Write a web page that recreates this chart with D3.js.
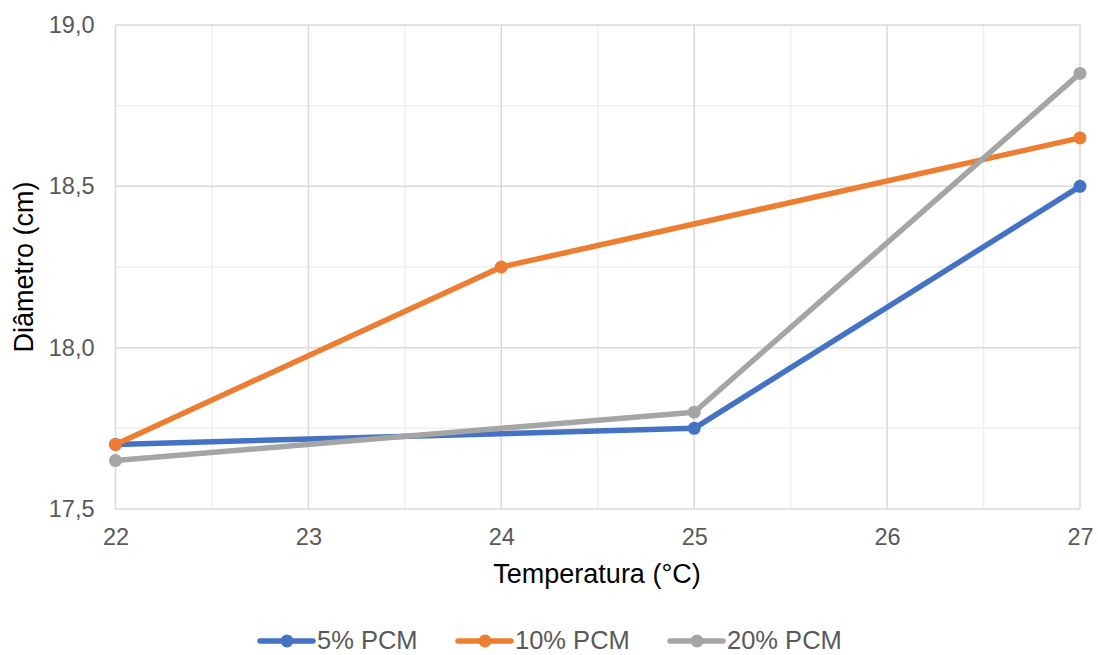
<!DOCTYPE html>
<html>
<head>
<meta charset="utf-8">
<script src="https://cdn.jsdelivr.net/npm/d3@7"></script>
<style>
  html, body { margin: 0; padding: 0; background: #fff; }
  svg { display: block; font-family: "Liberation Sans", Arial, Helvetica, sans-serif; }
</style>
</head>
<body>
<svg id="chart" width="1098" height="655"></svg>
<script>
// Diameter measurements per PCM proportion, by temperature (°C)
const seriesNames = ["5% PCM", "10% PCM", "20% PCM"];
const seriesColors = ["#4472C4", "#ED7D31", "#A5A5A5"];
const temps5 = [22, 25, 27];
const diam5 = [17.70, 17.75, 18.50];
const temps10 = [22, 24, 27];
const diam10 = [17.70, 18.25, 18.65];
const temps20 = [22, 25, 27];
const diam20 = [17.65, 17.80, 18.85];
const xTicks = [22, 23, 24, 25, 26, 27];
const yTicks = [17.5, 18.0, 18.5, 19.0];

const series = [
  { name: seriesNames[0], color: seriesColors[0], pts: temps5.map((t, i) => [t, diam5[i]]) },
  { name: seriesNames[1], color: seriesColors[1], pts: temps10.map((t, i) => [t, diam10[i]]) },
  { name: seriesNames[2], color: seriesColors[2], pts: temps20.map((t, i) => [t, diam20[i]]) }
];

const svg = d3.select("#chart");
const plotL = 115.5, plotR = 1080, plotT = 25, plotB = 509;

const x = d3.scaleLinear().domain([22, 27]).range([plotL, plotR]);
const y = d3.scaleLinear().domain([17.5, 19.0]).range([plotB, plotT]);

const grid = svg.append("g");
// minor gridlines
d3.range(22.5, 27, 1).forEach(v => {
  grid.append("line").attr("x1", x(v)).attr("x2", x(v)).attr("y1", plotT).attr("y2", plotB)
    .attr("stroke", "#efefef").attr("stroke-width", 1.5);
});
d3.range(17.75, 19.0, 0.5).forEach(v => {
  grid.append("line").attr("x1", plotL).attr("x2", plotR).attr("y1", y(v)).attr("y2", y(v))
    .attr("stroke", "#efefef").attr("stroke-width", 1.5);
});
// major gridlines
xTicks.forEach(v => {
  grid.append("line").attr("x1", x(v)).attr("x2", x(v)).attr("y1", plotT).attr("y2", plotB)
    .attr("stroke", "#d9d9d9").attr("stroke-width", 1.5);
});
yTicks.forEach(v => {
  grid.append("line").attr("x1", plotL).attr("x2", plotR).attr("y1", y(v)).attr("y2", y(v))
    .attr("stroke", "#d9d9d9").attr("stroke-width", 1.5);
});

// axes tick labels
const fmt = d3.format(".1f");
const xAxis = d3.axisBottom(x).tickValues(xTicks).tickSize(0).tickPadding(19).tickFormat(d3.format("d"));
const gx = svg.append("g").attr("transform", `translate(0,${plotB})`).call(xAxis);
gx.select(".domain").remove();
gx.selectAll("text").attr("font-size", 23.5).attr("fill", "#595959")
  .attr("font-family", "'Liberation Sans', Arial, sans-serif");

const yAxis = d3.axisLeft(y).tickValues(yTicks).tickSize(0).tickPadding(21)
  .tickFormat(d => fmt(d).replace(".", ","));
const gy = svg.append("g").attr("transform", `translate(${plotL},0)`).call(yAxis);
gy.select(".domain").remove();
gy.selectAll("text").attr("font-size", 23.5).attr("fill", "#595959")
  .attr("font-family", "'Liberation Sans', Arial, sans-serif");

// axis titles
svg.append("text").attr("x", 597).attr("y", 583).attr("text-anchor", "middle")
  .attr("font-size", 27).attr("fill", "#000").text("Temperatura (°C)");
svg.append("text").attr("transform", `translate(33,${(plotT + plotB) / 2}) rotate(-90)`)
  .attr("text-anchor", "middle").attr("font-size", 27).attr("fill", "#000").text("Diâmetro (cm)");

// lines and markers
const line = d3.line().x(d => x(d[0])).y(d => y(d[1]));
series.forEach(s => {
  const g = svg.append("g");
  g.append("path").datum(s.pts).attr("d", line).attr("fill", "none")
    .attr("stroke", s.color).attr("stroke-width", 5.5).attr("stroke-linejoin", "round").attr("stroke-linecap", "round");
  g.selectAll("circle").data(s.pts).enter().append("circle")
    .attr("cx", d => x(d[0])).attr("cy", d => y(d[1])).attr("r", 6.5).attr("fill", s.color);
});

// legend
const legendX = [258, 456, 668];
series.forEach((s, i) => {
  const g = svg.append("g").attr("transform", `translate(${legendX[i]},641)`);
  g.append("line").attr("x1", 2).attr("x2", 55).attr("y1", 0).attr("y2", 0)
    .attr("stroke", s.color).attr("stroke-width", 5.5).attr("stroke-linecap", "round");
  g.append("circle").attr("cx", 29).attr("cy", 0).attr("r", 6.5).attr("fill", s.color);
  g.append("text").attr("x", 59).attr("y", 8).attr("font-size", 25.5).attr("fill", "#595959").text(s.name);
});
</script>
</body>
</html>
